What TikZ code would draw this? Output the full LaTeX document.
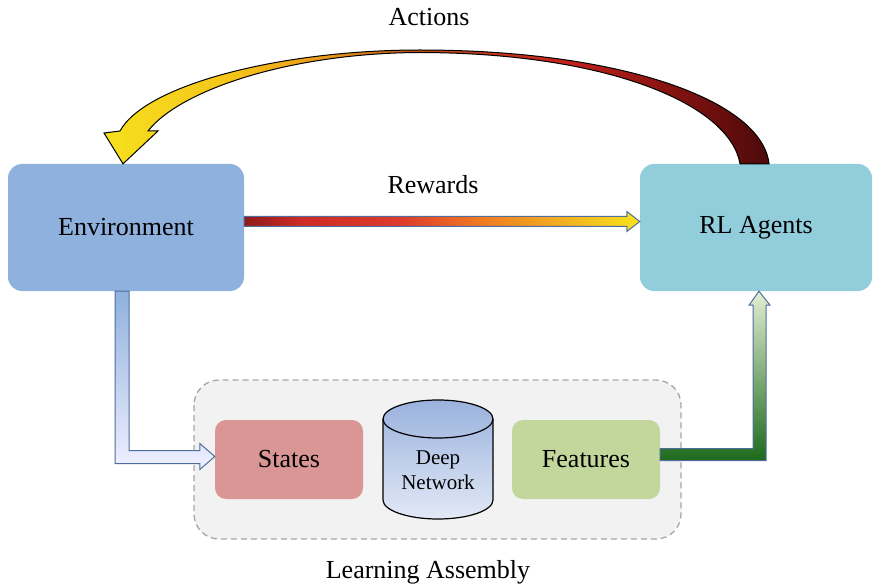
\documentclass[tikz,border=0pt]{standalone}
\usepackage{fontspec}
\setmainfont{Liberation Serif}
\usepackage{tikz}
\usetikzlibrary{arrows.meta,calc}
\usetikzlibrary{positioning}

\definecolor{envblue}{HTML}{8FB1DD}
\definecolor{agentblue}{HTML}{92CDDC}
\definecolor{statered}{HTML}{D99694}
\definecolor{featgreen}{HTML}{C3D69B}
\definecolor{asmfill}{HTML}{F2F2F2}
\definecolor{asmline}{HTML}{A6A6A6}
\definecolor{arrline}{HTML}{4F6D9E}
\definecolor{cyltop}{HTML}{9AB2DE}
\definecolor{cylbot}{HTML}{E2E9F6}
\definecolor{grdark}{HTML}{1D6A1D}
\definecolor{grmid}{HTML}{7DA85A}
\definecolor{grlight}{HTML}{E3EED3}
% colour stops for the two hot arrows
\definecolor{rwA}{HTML}{8E1B1B}
\definecolor{rwB}{HTML}{CC2A24}
\definecolor{rwC}{HTML}{DE3A2C}
\definecolor{rwD}{HTML}{EE7A22}
\definecolor{rwE}{HTML}{F3AE22}
\definecolor{rwF}{HTML}{F6E41C}
\definecolor{acA}{HTML}{F6E01E}
\definecolor{acB}{HTML}{F5C51A}
\definecolor{acC}{HTML}{E8961A}
\definecolor{acD}{HTML}{B8501A}
\definecolor{acE}{HTML}{C8221C}
\definecolor{acF}{HTML}{7E1210}
\definecolor{acG}{HTML}{4C0A0A}

\pgfdeclarehorizontalshading{rewshade}{100bp}{color(0bp)=(rwA); color(25bp)=(rwA);
  color(32bp)=(rwB); color(44.7bp)=(rwC); color(54.8bp)=(rwD); color(64.9bp)=(rwE);
  color(75bp)=(rwF); color(100bp)=(rwF)}
\pgfdeclarehorizontalshading{actshade}{100bp}{color(0bp)=(acA); color(25bp)=(acA);
  color(34.4bp)=(acB); color(42bp)=(acC); color(48.7bp)=(acD); color(59.3bp)=(acE);
  color(68.4bp)=(acF); color(75bp)=(acG); color(100bp)=(acG)}

\tikzset{
  bigbox/.style={rounded corners=14pt, minimum width=236pt, minimum height=127pt,
    font=\fontsize{26}{31}\selectfont},
  smallbox/.style={rounded corners=11pt, minimum width=148pt, minimum height=79pt,
    font=\fontsize{26}{31}\selectfont},
  caption/.style={font=\fontsize{26}{31}\selectfont},
  fatarrow/.style={draw=arrline, line width=1pt, line join=miter},
}

\begin{document}
\begin{tikzpicture}[x=1pt,y=-1pt,>=Stealth]
  \useasboundingbox (0,0) rectangle (873,588);

  % learning assembly frame
  \draw[asmline, fill=asmfill, line width=1.3pt, dash pattern=on 6pt off 4pt,
    rounded corners=25pt] (194,380) rectangle (681,539);

  \node[bigbox, fill=envblue] (env) at (126,227.5) {Environment};
  \node[bigbox, fill=agentblue, minimum width=232pt] (agents) at (756,227.5) {RL Agents};
  \node[smallbox, fill=statered] (states) at (289,459.5) {States};
  \node[smallbox, fill=featgreen] (feat) at (586,459.5) {Features};

  % deep network cylinder
  \shadedraw[top color=cyltop, bottom color=cylbot, line width=1.2pt]
    (383,419) -- (383,500) arc[start angle=180, end angle=360, x radius=55pt, y radius=19pt]
    -- (493,419) arc[start angle=0, end angle=180, x radius=55pt, y radius=19pt] -- cycle;
  \draw[line width=1.2pt] (383,419) arc[start angle=180, end angle=360, x radius=55pt, y radius=19pt];
  \node[align=center, font=\fontsize{21}{25}\selectfont] (net) at (438,470) {Deep\\Network};

  \node[caption] (act) at (429,17) {Actions};
  \node[caption] (rew) at (433,185) {Rewards};
  \node[caption] (learn) at (428,572) {Learning Assembly};

  % rewards: environment -> agents
  \shadedraw[shading=rewshade, draw=arrline, line width=1pt]
    ($(env.east)+(0,-11)$) -- ($(agents.west)+(-13,-11)$) -- ($(agents.west)+(-13,-16)$)
    -- ($(agents.west)+(0,-6)$) -- ($(agents.west)+(-13,4)$) -- ($(agents.west)+(-13,-1)$)
    -- ($(env.east)+(0,-1)$) -- cycle;

  % actions: curved arrow from agents back to environment
  \coordinate (tipA) at ($(env.north)+(-3,0)$);
  \shadedraw[shading=actshade, draw=black, line width=1pt]
    ($(agents.north)+(13,0)$) .. controls (762,100) and (620,50) .. (420,50)
    .. controls (280,50) and (145,85) .. (120,131) -- (104,133) -- (tipA)
    -- (158,131) -- (148,131) .. controls (180,90) and (290,53) .. (420,52.5)
    .. controls (610,53) and (730,105) .. ($(agents.north)+(-16,0)$) -- cycle;

  % environment -> states
  \coordinate (tipS) at ($(states.west)+(0,-3)$);
  \shadedraw[fatarrow, top color=envblue, bottom color=blue!6]
    ($(env.south)+(-11,0)$) |- ($(tipS)+(-15,7)$) -- ($(tipS)+(-15,13)$) -- (tipS)
    -- ($(tipS)+(-15,-13)$) -- ($(tipS)+(-15,-6)$) -| ($(env.south)+(3,0)$) -- cycle;

  % features -> agents
  \coordinate (tipF) at ($(agents.south)+(3,0)$);
  \shadedraw[fatarrow, bottom color=grdark, middle color=grmid, top color=grlight]
    ($(feat.east)+(0,-11)$) -| ($(tipF)+(-6,14)$) -- ($(tipF)+(-10,14)$) -- (tipF)
    -- ($(tipF)+(11,14)$) -- ($(tipF)+(7,14)$) |- ($(feat.east)+(0,1)$) -- cycle;
\end{tikzpicture}
\end{document}
